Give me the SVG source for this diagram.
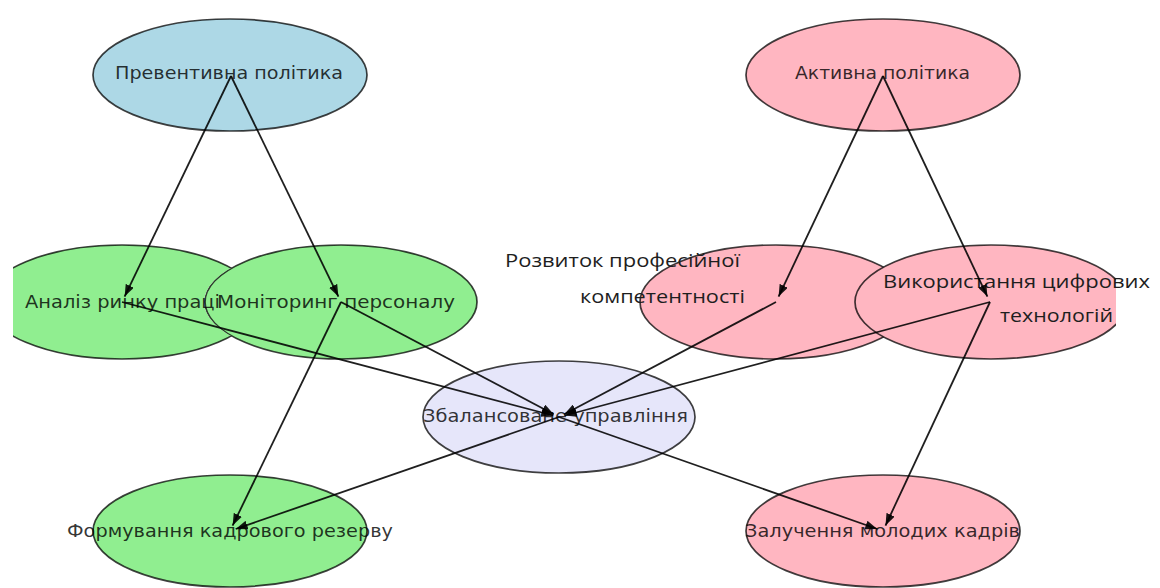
<svg xmlns="http://www.w3.org/2000/svg" width="1160" height="588" viewBox="0 0 1160 588">
  <style>
    .node ellipse { stroke: #000; stroke-opacity: 0.75; stroke-width: 1.7; }
    .blue { fill: #ADD8E6; }
    .green { fill: #90EE90; }
    .pink { fill: #FFB6C1; }
    .lav { fill: #E6E6FA; }
    .lbl { font-family: "DejaVu Sans", sans-serif; font-size: 17px; fill: #000; fill-opacity: 0.8; text-anchor: middle; }
    .lbl2 { font-family: "Open Sans", "Noto Sans", sans-serif; font-size: 19px; fill: #1e1e1e; }
    .edges line { stroke: #000; stroke-opacity: 0.88; stroke-width: 1.8; marker-end: url(#arrow); }
  </style>
  <defs>
    <marker id="arrow" markerUnits="userSpaceOnUse" markerWidth="13" markerHeight="9" refX="12" refY="4.5" orient="auto">
      <path d="M0,0 L12,4.5 L0,9 Z" fill="#000" fill-opacity="0.9"/>
    </marker>
    <clipPath id="clipAnaliz">
      <path clip-rule="evenodd" d="M13,0 H1160 V588 H13 Z M204,302 a137,57 0 1,0 274,0 a137,57 0 1,0 -274,0 Z"/>
    </clipPath>
    <clipPath id="clipRight">
      <rect x="0" y="0" width="1116" height="588"/>
    </clipPath>
  </defs>
  <rect width="1160" height="588" fill="#fff"/>

  <g id="nodes">
    <g id="node-preventive" class="node">
      <ellipse class="blue" cx="230" cy="75" rx="137" ry="56"/>
      <text class="lbl" x="229" y="79" textLength="228" lengthAdjust="spacingAndGlyphs">Превентивна політика</text>
    </g>
    <g id="node-active" class="node">
      <ellipse class="pink" cx="883" cy="75" rx="137" ry="56"/>
      <text class="lbl" x="882.5" y="79" textLength="175" lengthAdjust="spacingAndGlyphs">Активна політика</text>
    </g>
    <g id="node-monitoring" class="node">
      <ellipse class="green" cx="341" cy="302" rx="136" ry="57"/>
      <text class="lbl" x="336" y="308" textLength="238" lengthAdjust="spacingAndGlyphs">Моніторинг персоналу</text>
    </g>
    <g id="node-analysis" class="node">
      <ellipse class="green" cx="122" cy="302" rx="136" ry="57" clip-path="url(#clipAnaliz)"/>
      <text class="lbl" x="122.5" y="308" textLength="195" lengthAdjust="spacingAndGlyphs">Аналіз ринку праці</text>
    </g>
    <g id="node-development" class="node">
      <ellipse class="pink" cx="776" cy="302" rx="136" ry="57"/>
      <text class="lbl2" x="505" y="267" textLength="235" lengthAdjust="spacingAndGlyphs">Розвиток професійної</text>
      <text class="lbl2" x="580" y="303" textLength="165" lengthAdjust="spacingAndGlyphs">компетентності</text>
    </g>
    <g id="node-digital" class="node">
      <ellipse class="pink" cx="991" cy="302" rx="136" ry="57" clip-path="url(#clipRight)"/>
      <text class="lbl2" x="883" y="288" textLength="267" lengthAdjust="spacingAndGlyphs">Використання цифрових</text>
      <text class="lbl2" x="1000" y="322" textLength="113" lengthAdjust="spacingAndGlyphs">технологій</text>
    </g>
    <g id="node-balanced" class="node">
      <ellipse class="lav" cx="559" cy="417" rx="136" ry="56"/>
      <text class="lbl" x="555.5" y="422" textLength="265" lengthAdjust="spacingAndGlyphs">Збалансоване управління</text>
    </g>
    <g id="node-reserve" class="node">
      <ellipse class="green" cx="230" cy="531" rx="137" ry="56"/>
      <text class="lbl" x="230" y="537" textLength="326" lengthAdjust="spacingAndGlyphs">Формування кадрового резерву</text>
    </g>
    <g id="node-youth" class="node">
      <ellipse class="pink" cx="883" cy="531" rx="137" ry="56"/>
      <text class="lbl" x="882.5" y="537" textLength="275" lengthAdjust="spacingAndGlyphs">Залучення молодих кадрів</text>
    </g>
  </g>

  <g id="connectors" class="edges">
    <line x1="231" y1="76" x2="124.6" y2="296.6"/>
    <line x1="231" y1="76" x2="338.4" y2="296.6"/>
    <line x1="883" y1="76" x2="778.6" y2="296.6"/>
    <line x1="883" y1="76" x2="987.4" y2="296.6"/>
    <line x1="122" y1="302" x2="553.2" y2="415.5"/>
    <line x1="341" y1="302" x2="553.7" y2="414.2"/>
    <line x1="776" y1="302" x2="564.3" y2="414.2"/>
    <line x1="990" y1="302" x2="564.8" y2="415.5"/>
    <line x1="341" y1="302" x2="232.6" y2="525.6"/>
    <line x1="559" y1="417" x2="235.7" y2="529"/>
    <line x1="990" y1="302" x2="885.5" y2="525.6"/>
    <line x1="559" y1="417" x2="877.3" y2="529"/>
  </g>
</svg>
